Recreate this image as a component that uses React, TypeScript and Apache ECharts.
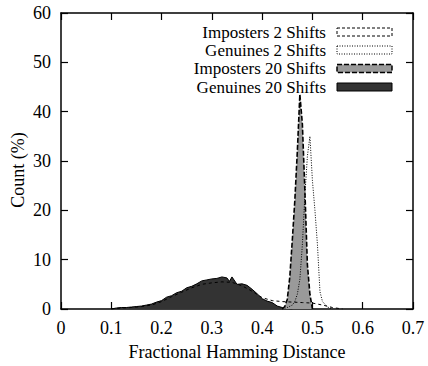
import React, { useEffect, useRef } from "react";
import * as echarts from "echarts";

// ---- data ----
const xTicks = [0, 0.1, 0.2, 0.3, 0.4, 0.5, 0.6, 0.7];
const yTicks = [0, 10, 20, 30, 40, 50, 60];

const seriesNames = [
  "Imposters 2 Shifts",
  "Genuines 2 Shifts",
  "Imposters 20 Shifts",
  "Genuines 20 Shifts",
];

const gen20X = [0.10, 0.11, 0.12, 0.13, 0.14, 0.15, 0.16, 0.17, 0.18, 0.19, 0.20, 0.21, 0.22, 0.23, 0.24, 0.25, 0.26, 0.27, 0.28, 0.29, 0.30, 0.31, 0.32, 0.33, 0.335, 0.34, 0.35, 0.36, 0.37, 0.38, 0.39, 0.40, 0.41, 0.42, 0.43, 0.44, 0.45, 0.46];
const gen20Y = [0, 0.2, 0.3, 0.3, 0.4, 0.5, 0.6, 0.8, 1.0, 1.4, 1.7, 2.4, 2.7, 3.3, 3.6, 4.3, 4.6, 5.1, 5.7, 5.9, 6.1, 6.2, 6.5, 6.3, 5.6, 6.5, 5.0, 5.1, 4.8, 4.0, 3.1, 2.1, 1.6, 1.3, 0.6, 0.3, 0.1, 0];

const imp2X = [0.10, 0.12, 0.14, 0.16, 0.18, 0.20, 0.22, 0.24, 0.26, 0.28, 0.30, 0.32, 0.34, 0.36, 0.38, 0.40, 0.42, 0.44, 0.46, 0.48, 0.50, 0.52, 0.54, 0.56];
const imp2Y = [0, 0.2, 0.3, 0.5, 0.8, 1.5, 2.5, 3.4, 4.3, 5.0, 5.3, 5.5, 5.4, 4.7, 3.6, 2.3, 1.7, 1.5, 1.4, 1.3, 1.2, 0.8, 0.3, 0];

const gen2X = [0.44, 0.45, 0.46, 0.465, 0.47, 0.475, 0.48, 0.485, 0.49, 0.495, 0.50, 0.505, 0.51, 0.515, 0.52, 0.53, 0.54];
const gen2Y = [0, 0.3, 0.8, 1.5, 3, 6, 13, 23, 31, 35, 26, 20, 13, 3.5, 1.5, 0.4, 0];

const imp20X = [0.44, 0.445, 0.45, 0.455, 0.46, 0.465, 0.47, 0.475, 0.48, 0.485, 0.49, 0.495, 0.50];
const imp20Y = [0, 0.5, 2, 6.5, 14, 22, 32, 43.5, 37.5, 24, 9, 3, 0];

const pairs = (xs: number[], ys: number[]) => xs.map((x, i) => [x, ys[i]]);

const FONT = "'Liberation Serif', 'Times New Roman', serif";

export default function App() {
  const ref = useRef<HTMLDivElement>(null);
  useEffect(() => {
    if (!ref.current) return;
    const chart = echarts.init(ref.current, undefined, { renderer: "svg" });

    const gridL = 61, gridT = 13, gridR = 15, gridB = 57;
    const axisCommon = {
      axisLine: { show: true, onZero: false, lineStyle: { color: "#000", width: 1.5 } },
      axisTick: { show: true, inside: true, length: 7, lineStyle: { color: "#000", width: 1.2 } },
      splitLine: { show: false },
    };

    const rowY = [32, 50, 68.5, 87];
    const swatchStyles = [
      { fill: "#fff", stroke: "#000", lineWidth: 1, lineDash: [3, 2] },
      { fill: "#fff", stroke: "#000", lineWidth: 1, lineDash: [1, 1.5] },
      { fill: "#9a9a9a", stroke: "#000", lineWidth: 1.5, lineDash: [5, 2] },
      { fill: "#333333", stroke: "#000", lineWidth: 1 },
    ];
    const legendGraphics: any[] = [];
    seriesNames.forEach((name, i) => {
      legendGraphics.push({
        type: "text",
        x: 326,
        y: rowY[i],
        z: 10,
        style: {
          text: name,
          font: `17px ${FONT}`,
          fill: "#000",
          align: "right",
          verticalAlign: "middle",
        },
      });
      legendGraphics.push({
        type: "rect",
        z: 10,
        shape: { x: 337, y: rowY[i] - 4, width: 55, height: 8 },
        style: swatchStyles[i],
      });
    });
    legendGraphics.push({
      type: "text",
      x: 18,
      y: 170,
      rotation: Math.PI / 2,
      style: {
        text: "Count (%)",
        font: `18px ${FONT}`,
        fill: "#000",
        align: "center",
        verticalAlign: "middle",
      },
    });

    chart.setOption({
      animation: false,
      backgroundColor: "#fff",
      grid: { left: gridL, top: gridT, right: gridR, bottom: gridB },
      xAxis: [
        {
          type: "value",
          min: xTicks[0],
          max: xTicks[xTicks.length - 1],
          interval: 0.1,
          position: "bottom",
          ...axisCommon,
          axisLabel: {
            show: true,
            margin: 10,
            color: "#000",
            fontSize: 18,
            fontFamily: FONT,
            formatter: (v: number) => String(Math.round(v * 10) / 10),
          },
          name: "Fractional Hamming Distance",
          nameLocation: "middle",
          nameGap: 34,
          nameTextStyle: { color: "#000", fontSize: 18, fontFamily: FONT },
        },
        {
          type: "value",
          min: xTicks[0],
          max: xTicks[xTicks.length - 1],
          interval: 0.1,
          position: "top",
          ...axisCommon,
          axisLabel: { show: false },
        },
      ],
      yAxis: [
        {
          type: "value",
          min: yTicks[0],
          max: yTicks[yTicks.length - 1],
          interval: 10,
          position: "left",
          ...axisCommon,
          axisLabel: {
            show: true,
            margin: 10,
            color: "#000",
            fontSize: 18,
            fontFamily: FONT,
          },
        },
        {
          type: "value",
          min: yTicks[0],
          max: yTicks[yTicks.length - 1],
          interval: 10,
          position: "right",
          ...axisCommon,
          axisLabel: { show: false },
        },
      ],
      graphic: legendGraphics,
      series: [
        {
          name: seriesNames[3],
          type: "line",
          data: pairs(gen20X, gen20Y),
          showSymbol: false,
          symbol: "none",
          lineStyle: { color: "#000", width: 1 },
          areaStyle: { color: "#333333", opacity: 1 },
          z: 2,
        },
        {
          name: seriesNames[2],
          type: "line",
          data: pairs(imp20X, imp20Y),
          showSymbol: false,
          symbol: "none",
          lineStyle: { color: "#000", width: 1.6, type: [5, 2] },
          areaStyle: { color: "#9a9a9a", opacity: 1 },
          z: 3,
        },
        {
          name: seriesNames[0],
          type: "line",
          data: pairs(imp2X, imp2Y),
          showSymbol: false,
          symbol: "none",
          lineStyle: { color: "#000", width: 1, type: [3, 3] },
          z: 4,
        },
        {
          name: seriesNames[1],
          type: "line",
          data: pairs(gen2X, gen2Y),
          showSymbol: false,
          symbol: "none",
          lineStyle: { color: "#000", width: 1, type: [1, 1.5] },
          z: 4,
        },
      ],
    });
    return () => chart.dispose();
  }, []);
  return (
    <div
      ref={ref}
      style={{ position: "fixed", left: 0, top: 0, width: 428, height: 366, background: "#fff" }}
    />
  );
}
